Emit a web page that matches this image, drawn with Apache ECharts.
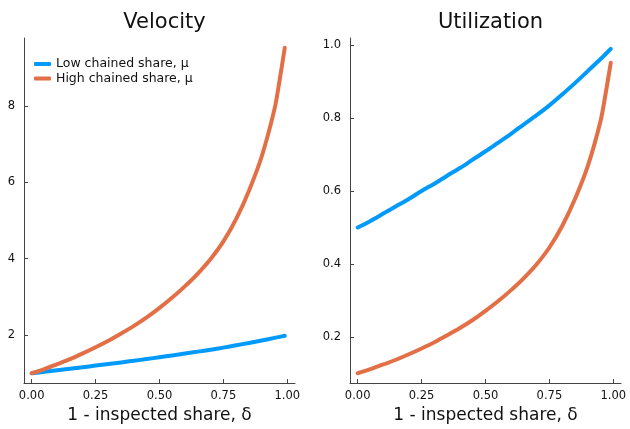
<!DOCTYPE html>
<html>
<head>
<meta charset="utf-8">
<script src="https://cdn.jsdelivr.net/npm/echarts@6/dist/echarts.min.js"></script>
<style>
html,body{margin:0;padding:0;background:#fff;}
#c{width:630px;height:429px;}
</style>
</head>
<body>
<div id="c"></div>
<script>
// ---- data ----
const seriesNames = ["Low chained share, μ", "High chained share, μ"];
const titles = ["Velocity", "Utilization"];
const xAxisName = "1 - inspected share, δ";

// inspected-share positions (δ) where the curves were read
const delta = [0, 0.05, 0.1, 0.15, 0.2, 0.25, 0.3, 0.35, 0.4, 0.45, 0.5, 0.55, 0.6, 0.65, 0.7, 0.75, 0.8, 0.85, 0.9, 0.95, 0.97, 0.99];

// Velocity panel
const velocityLow  = [1.0, 1.037, 1.076, 1.115, 1.157, 1.2, 1.241, 1.283, 1.327, 1.372, 1.419, 1.466, 1.515, 1.565, 1.617, 1.67, 1.73, 1.793, 1.857, 1.925, 1.952, 1.98];
const velocityHigh = [1.0, 1.11, 1.24, 1.37, 1.52, 1.68, 1.85, 2.04, 2.24, 2.46, 2.71, 2.98, 3.28, 3.61, 3.99, 4.45, 5.04, 5.78, 6.68, 7.92, 8.68, 9.52];

// Utilization panel
const utilLow  = [0.5, 0.518, 0.538, 0.558, 0.578, 0.6, 0.62, 0.642, 0.663, 0.686, 0.709, 0.733, 0.757, 0.783, 0.808, 0.835, 0.865, 0.896, 0.929, 0.962, 0.976, 0.99];
const utilHigh = [0.1, 0.111, 0.124, 0.137, 0.152, 0.168, 0.185, 0.204, 0.224, 0.246, 0.271, 0.298, 0.328, 0.361, 0.399, 0.445, 0.504, 0.578, 0.668, 0.792, 0.868, 0.952];

// tick labels
const xTicks = [0, 0.25, 0.5, 0.75, 1.0];
const yTicksVel = [2, 4, 6, 8];
const yTicksUtil = [0.2, 0.4, 0.6, 0.8, 1.0];

const colors = ["#009AFA", "#E36F47"];
const FONT = "DejaVu Sans";

function pairs(xs, ys){ return xs.map((x,i)=>[x, ys[i]]); }

const axisLineStyle = {lineStyle:{color:"#444", width:1}};
function xAxis(gi){
  return {
    type:"value", gridIndex:gi, min:-0.03, max:1.03,
    axisLine:{show:true, onZero:false, ...axisLineStyle},
    axisTick:{show:true, inside:true, length:4, customValues:xTicks, lineStyle:{color:"#444"}},
    axisLabel:{customValues:xTicks, margin:7, fontFamily:FONT, fontSize:11.5, color:"#111",
      formatter:v=>v.toFixed(2)},
    splitLine:{show:false},
    name:xAxisName, nameLocation:"middle", nameGap:24,
    nameTextStyle:{fontFamily:FONT, fontSize:17, color:"#111"}
  };
}
function yAxis(gi, min, max, ticks, fmt){
  return {
    type:"value", gridIndex:gi, min:min, max:max,
    axisLine:{show:true, onZero:false, ...axisLineStyle},
    axisTick:{show:true, inside:true, length:4, customValues:ticks, lineStyle:{color:"#444"}},
    axisLabel:{customValues:ticks, margin:9, fontFamily:FONT, fontSize:11.5, color:"#111", formatter:fmt},
    splitLine:{show:false}
  };
}

function line(name, xi, data, color){
  return {
    name:name, type:"line", xAxisIndex:xi, yAxisIndex:xi, data:data,
    smooth:0.3, showSymbol:false, symbol:"none",
    lineStyle:{color:color, width:4, cap:"round", join:"round"},
    itemStyle:{color:color}, silent:true, animation:false
  };
}

const option = {
  animation:false,
  backgroundColor:"#fff",
  title:[
    {text:titles[0], left:159.5, top:7, textAlign:"center",
     textStyle:{fontFamily:FONT, fontSize:21, fontWeight:"normal", color:"#111"}},
    {text:titles[1], left:485.5, top:7, textAlign:"center",
     textStyle:{fontFamily:FONT, fontSize:21, fontWeight:"normal", color:"#111"}}
  ],
  legend:{
    left:34, top:57, orient:"vertical", padding:0, itemGap:0.4, itemWidth:17, itemHeight:4,
    icon:"roundRect",
    data:seriesNames,
    textStyle:{fontFamily:FONT, fontSize:12.5, color:"#111", lineHeight:14},
    selectedMode:false
  },
  grid:[
    {left:24, right:335, top:38, bottom:43},
    {left:350, right:9, top:38, bottom:43}
  ],
  xAxis:[xAxis(0), xAxis(1)],
  yAxis:[
    yAxis(0, 0.744, 9.776, yTicksVel, v=>String(Math.round(v))),
    yAxis(1, 0.0732, 1.0198, yTicksUtil, v=>v.toFixed(1))
  ],
  series:[
    line(seriesNames[0], 0, pairs(delta, velocityLow), colors[0]),
    line(seriesNames[1], 0, pairs(delta, velocityHigh), colors[1]),
    line(seriesNames[0], 1, pairs(delta, utilLow), colors[0]),
    line(seriesNames[1], 1, pairs(delta, utilHigh), colors[1])
  ]
};

const chart = echarts.init(document.getElementById("c"), null, {renderer:"canvas"});
chart.setOption(option);
</script>
</body>
</html>
